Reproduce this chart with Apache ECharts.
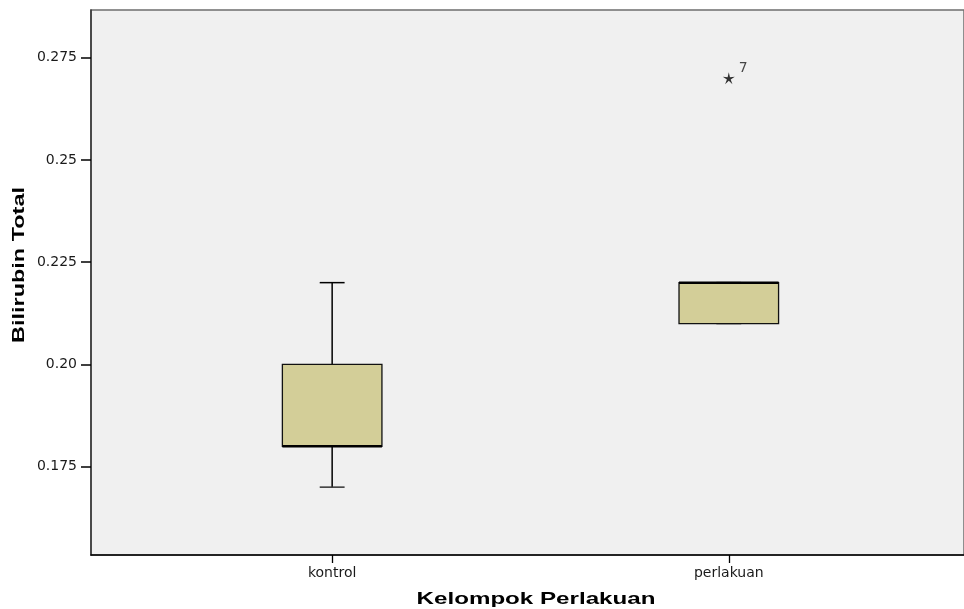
<!DOCTYPE html>
<html>
<head>
<meta charset="utf-8">
<script src="https://cdn.jsdelivr.net/npm/echarts@6/dist/echarts.min.js"></script>
<style>
  html, body { margin: 0; padding: 0; background: #ffffff; }
  #chart { width: 964px; height: 609px; }
</style>
</head>
<body>
<div id="chart"></div>
<script>
// Groups on the horizontal axis
var categories = ['kontrol', 'perlakuan'];
// Five-number summaries per group (lower whisker, Q1, median, Q3, upper whisker)
var whiskerLow = [0.17, 0.21];
var q1Values = [0.18, 0.21];
var medianValues = [0.18, 0.22];
var q3Values = [0.20, 0.22];
var whiskerHigh = [0.22, 0.22];
// Extreme values: [group index, value, case label]
var extremes = [[1, 0.27, '7']];
// Vertical axis ticks and their printed labels
var yTickValues = [0.175, 0.20, 0.225, 0.25, 0.275];
var yTickLabels = ['0.175', '0.20', '0.225', '0.25', '0.275'];
// Axis titles
var xTitle = 'Kelompok Perlakuan';
var yTitle = 'Bilirubin Total';

var boxData = categories.map(function (c, i) {
  return [i, whiskerLow[i], q1Values[i], medianValues[i], q3Values[i], whiskerHigh[i]];
});

var BOX_WIDTH = 0.251;   // in x-axis units
var CAP_RATIO = 0.25;

function renderBox(params, api) {
  var x = api.value(0);
  var low = api.coord([x, api.value(1)]);
  var q1 = api.coord([x, api.value(2)]);
  var med = api.coord([x, api.value(3)]);
  var q3 = api.coord([x, api.value(4)]);
  var high = api.coord([x, api.value(5)]);
  var w = api.size([BOX_WIDTH, 0])[0];
  var cw = w * CAP_RATIO;
  var cx = low[0];
  var lineStyle = { stroke: '#000000', lineWidth: 1.5 };
  return {
    type: 'group',
    children: [
      { type: 'line', shape: { x1: cx, y1: high[1], x2: cx, y2: q3[1] }, style: lineStyle },
      { type: 'line', shape: { x1: cx, y1: q1[1], x2: cx, y2: low[1] }, style: lineStyle },
      { type: 'line', shape: { x1: cx - cw / 2, y1: high[1], x2: cx + cw / 2, y2: high[1] }, style: lineStyle },
      { type: 'line', shape: { x1: cx - cw / 2, y1: low[1], x2: cx + cw / 2, y2: low[1] }, style: { stroke: '#333333', lineWidth: 1.5 } },
      {
        type: 'rect',
        shape: { x: cx - w / 2, y: q3[1], width: w, height: q1[1] - q3[1] },
        style: { fill: '#D3CE98', stroke: '#111111', lineWidth: 1.3 }
      },
      { type: 'line', shape: { x1: cx - w / 2, y1: med[1], x2: cx + w / 2, y2: med[1] }, style: { stroke: '#000000', lineWidth: 2.5 } }
    ]
  };
}

// thin five-armed star used for extreme values
var starPath = 'path://M0,-7 L1.3,-1.7 L6.7,-2.2 L2.1,0.7 L4.1,5.7 L0,2.2 L-4.1,5.7 L-2.1,0.7 L-6.7,-2.2 L-1.3,-1.7 Z';

var titleFont = { fontFamily: 'Liberation Sans', fontWeight: 'bold', fontSize: 17, fill: '#000000' };

var chart = echarts.init(document.getElementById('chart'), null, { renderer: 'canvas' });
chart.setOption({
  animation: false,
  backgroundColor: '#ffffff',
  grid: {
    left: 91, top: 10, right: -3, bottom: 54,
    show: true,
    backgroundColor: '#F0F0F0',
    borderColor: '#6E6E6E',
    borderWidth: 1.5
  },
  xAxis: {
    type: 'value',
    min: -0.608,
    max: 1.593,
    axisLine: { show: true, onZero: false, lineStyle: { color: '#000000', width: 1.5 } },
    axisTick: { show: true, length: 8, customValues: [0, 1], lineStyle: { color: '#000000', width: 1.3 } },
    axisLabel: {
      customValues: [0, 1],
      margin: 11,
      fontFamily: 'DejaVu Sans', fontSize: 14, color: '#1a1a1a',
      formatter: function (v) { return categories[Math.round(v)]; }
    },
    splitLine: { show: false }
  },
  yAxis: {
    type: 'value',
    min: 0.15341,
    max: 0.28666,
    axisLine: { show: true, onZero: false, lineStyle: { color: '#333333', width: 1.5 } },
    axisTick: { show: true, length: 10, customValues: yTickValues, lineStyle: { color: '#000000', width: 1.5 } },
    axisLabel: {
      customValues: yTickValues,
      margin: 14,
      fontFamily: 'DejaVu Sans', fontSize: 14, color: '#1a1a1a',
      formatter: function (v) {
        for (var i = 0; i < yTickValues.length; i++) {
          if (Math.abs(yTickValues[i] - v) < 1e-6) return yTickLabels[i];
        }
        return '';
      }
    },
    splitLine: { show: false }
  },
  graphic: [
    {
      type: 'text',
      x: 536, y: 599,
      scaleX: 1.42,
      style: Object.assign({ text: xTitle, align: 'center', verticalAlign: 'middle' }, titleFont)
    },
    {
      type: 'text',
      x: 19, y: 265,
      rotation: Math.PI / 2,
      scaleX: 1.38,
      style: Object.assign({ text: yTitle, align: 'center', verticalAlign: 'middle' }, titleFont)
    }
  ],
  series: [
    {
      type: 'custom',
      renderItem: renderBox,
      data: boxData,
      encode: { x: 0, y: [1, 2, 3, 4, 5] },
      z: 3
    },
    {
      type: 'scatter',
      data: extremes.map(function (e) { return [e[0], e[1], e[2]]; }),
      symbol: starPath,
      symbolSize: 12,
      itemStyle: { color: '#000000' },
      label: {
        show: true,
        position: 'right',
        distance: 4,
        offset: [0, -10],
        fontFamily: 'DejaVu Sans', fontSize: 14, color: '#1a1a1a',
        formatter: function (p) { return p.value[2]; }
      },
      z: 4
    }
  ]
});
</script>
</body>
</html>
